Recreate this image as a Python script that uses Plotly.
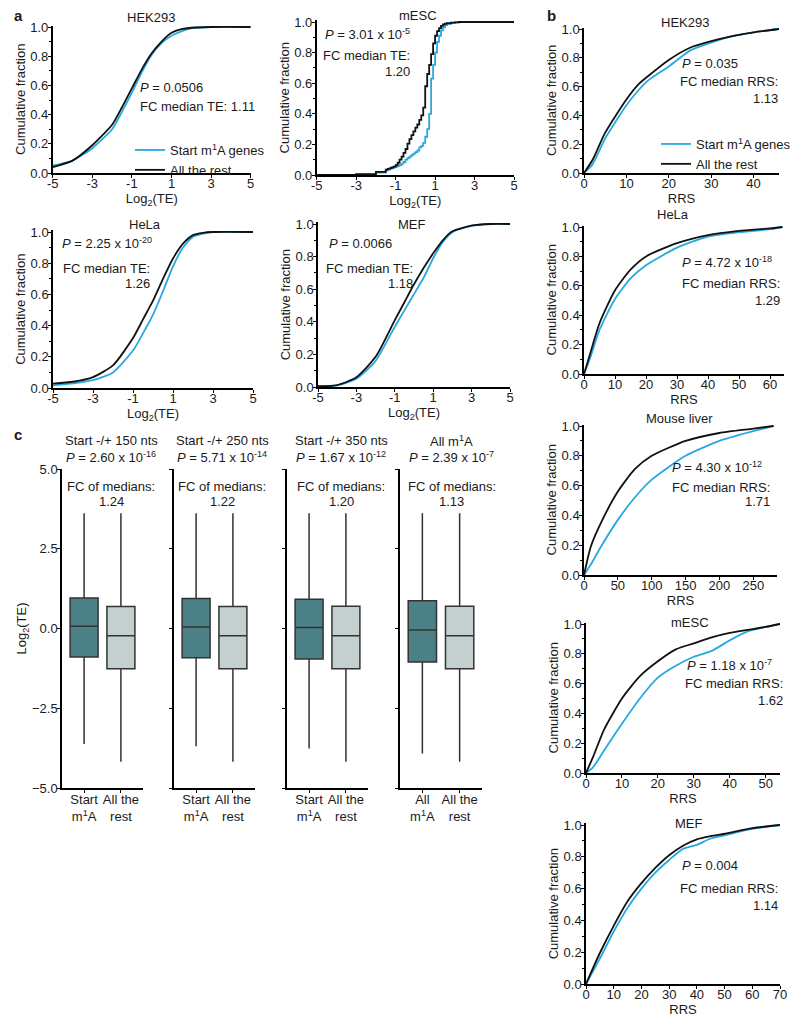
import plotly.graph_objects as go

# The page body has an 8 px margin, so the figure is placed at (8, 8) in the window.
OX, OY = 8, 8
W, H = 792, 1010
FONT = "Liberation Sans, Arial, Helvetica, sans-serif"
BLUE = "#27a8e3"
BLACK = "#111111"
TEAL = "#4b8086"
LIGHT = "#c4d0d0"
TXT = "#1a1a1a"
FS = 13

# ---------------- data: panel a (Log2 TE CDFs) ----------------
a_hek_x = [-5, -4, -3, -2, -1.5, -1, -0.5, 0, 0.5, 1, 1.5, 2, 3, 5]
a_hek_start = [0.05, 0.085, 0.17, 0.30, 0.42, 0.55, 0.69, 0.81, 0.89, 0.94, 0.97, 0.99, 1.0, 1.0]
a_hek_rest = [0.04, 0.085, 0.19, 0.33, 0.45, 0.58, 0.71, 0.82, 0.90, 0.96, 0.985, 0.995, 1.0, 1.0]

a_mesc_x = [-5, -3, -2, -1.5, -1.4, -1.3, -1.2, -1.1, -1.0, -0.9, -0.8, -0.7, -0.6, -0.5, -0.4, -0.3,
            -0.2, -0.1, 0.0, 0.1, 0.2, 0.3, 0.4, 0.5, 0.6, 0.7, 0.8, 0.9, 1.0, 1.1, 1.2, 1.3, 1.4,
            1.5, 1.6, 1.8, 2.0, 2.2, 5]
a_mesc_start = [0, 0.003, 0.015, 0.03, 0.035, 0.04, 0.045, 0.05, 0.055, 0.06, 0.065, 0.075, 0.085,
                0.10, 0.11, 0.12, 0.13, 0.14, 0.15, 0.16, 0.18, 0.19, 0.21, 0.25, 0.30, 0.40, 0.63,
                0.72, 0.80, 0.87, 0.91, 0.945, 0.965, 0.98, 0.987, 0.993, 0.997, 1.0, 1.0]
a_mesc_rest = [0, 0.005, 0.02, 0.035, 0.04, 0.045, 0.05, 0.055, 0.065, 0.08, 0.10, 0.12, 0.145,
               0.17, 0.205, 0.235, 0.26, 0.285, 0.31, 0.33, 0.36, 0.39, 0.44, 0.58, 0.66, 0.72, 0.79,
               0.86, 0.91, 0.94, 0.96, 0.975, 0.985, 0.99, 0.993, 0.996, 0.998, 1.0, 1.0]

a_hela_x = [-5, -4, -3, -2, -1, -0.5, 0, 0.5, 1, 1.5, 2, 2.5, 3, 5]
a_hela_start = [0.017, 0.03, 0.05, 0.10, 0.24, 0.35, 0.47, 0.62, 0.78, 0.90, 0.97, 0.99, 1.0, 1.0]
a_hela_rest = [0.028, 0.04, 0.07, 0.145, 0.32, 0.44, 0.56, 0.70, 0.83, 0.925, 0.98, 0.995, 1.0, 1.0]

a_mef_x = [-5, -4, -3, -2, -1, -0.5, 0, 0.5, 1, 1.5, 2, 3, 4, 5]
a_mef_start = [0.005, 0.01, 0.05, 0.16, 0.37, 0.47, 0.57, 0.67, 0.79, 0.89, 0.95, 0.99, 1.0, 1.0]
a_mef_rest = [0.005, 0.012, 0.06, 0.185, 0.41, 0.52, 0.63, 0.73, 0.82, 0.90, 0.955, 0.99, 1.0, 1.0]

# ---------------- data: panel b (RRS CDFs) ----------------
b_hek_x = [0, 2, 5, 10, 13, 15, 20, 25, 30, 35, 40, 46]
b_hek_start = [0, 0.06, 0.24, 0.47, 0.58, 0.64, 0.74, 0.85, 0.905, 0.95, 0.977, 1.0]
b_hek_rest = [0, 0.09, 0.28, 0.51, 0.62, 0.67, 0.785, 0.87, 0.915, 0.95, 0.977, 1.0]

b_hela_x = [0, 2, 5, 10, 15, 20, 30, 40, 50, 60, 64]
b_hela_start = [0, 0.11, 0.30, 0.51, 0.65, 0.74, 0.86, 0.935, 0.965, 0.985, 1.0]
b_hela_rest = [0, 0.14, 0.345, 0.57, 0.71, 0.80, 0.89, 0.945, 0.973, 0.99, 1.0]

b_liver_x = [0, 10, 25, 50, 75, 100, 150, 200, 250, 280]
b_liver_start = [0, 0.07, 0.19, 0.37, 0.52, 0.64, 0.80, 0.90, 0.965, 1.0]
b_liver_rest = [0, 0.19, 0.35, 0.56, 0.71, 0.80, 0.90, 0.953, 0.982, 1.0]

b_mesc_x = [0, 2, 5, 10, 15, 20, 25, 30, 35, 40, 45, 50, 54]
b_mesc_start = [0, 0.04, 0.15, 0.33, 0.50, 0.64, 0.72, 0.78, 0.82, 0.89, 0.95, 0.98, 1.0]
b_mesc_rest = [0, 0.11, 0.29, 0.50, 0.65, 0.75, 0.83, 0.87, 0.91, 0.94, 0.96, 0.98, 1.0]

b_mef_x = [0, 5, 10, 15, 20, 25, 30, 35, 40, 45, 50, 60, 70]
b_mef_start = [0, 0.16, 0.33, 0.48, 0.60, 0.70, 0.78, 0.85, 0.875, 0.915, 0.935, 0.975, 1.0]
b_mef_rest = [0, 0.195, 0.366, 0.52, 0.634, 0.73, 0.81, 0.87, 0.91, 0.93, 0.945, 0.98, 1.0]

# ---------------- data: panel c (box plots of Log2 TE) ----------------
box_titles = ["Start -/+ 150 nts", "Start -/+ 250 nts", "Start -/+ 350 nts", "All m<sup>1</sup>A"]
box_pvals = ["2.60 x 10<sup>-16</sup>", "5.71 x 10<sup>-14</sup>", "1.67 x 10<sup>-12</sup>", "2.39 x 10<sup>-7</sup>"]
box_fc = ["1.24", "1.22", "1.20", "1.13"]
box_cat_first = ["Start<br>m<sup>1</sup>A", "Start<br>m<sup>1</sup>A", "Start<br>m<sup>1</sup>A", "All<br>m<sup>1</sup>A"]
box_cat_second = ["All the<br>rest"] * 4
box_m1a_lo = [-3.62, -3.69, -3.76, -3.92]
box_m1a_q1 = [-0.89, -0.92, -0.96, -1.05]
box_m1a_med = [0.07, 0.05, 0.03, -0.05]
box_m1a_q3 = [0.96, 0.94, 0.92, 0.87]
box_m1a_hi = [3.61, 3.61, 3.61, 3.61]
box_rest_lo = [-4.18, -4.18, -4.18, -4.18]
box_rest_q1 = [-1.26, -1.26, -1.26, -1.26]
box_rest_med = [-0.23, -0.23, -0.23, -0.23]
box_rest_q3 = [0.69, 0.69, 0.70, 0.70]
box_rest_hi = [3.61, 3.61, 3.61, 3.61]


def px_x(x):
    return (x - OX) / W


def px_y(y):
    return 1 - (y - OY) / H


def dx(l, r):
    return [px_x(l), px_x(r)]


def dy(t, b):
    return [px_y(b), px_y(t)]


def ann(text, x, y, xanchor="center", size=FS, bold=False):
    return dict(text=f"<b>{text}</b>" if bold else text, x=px_x(x), y=px_y(y),
                xref="paper", yref="paper", xanchor=xanchor, yanchor="middle",
                showarrow=False, font=dict(size=size, color=TXT, family=FONT))


fig = go.Figure()
layout = {}
annotations = []

axis_common = dict(showline=True, linecolor="black", linewidth=1.5, ticks="outside",
                   ticklen=4, tickwidth=1.2, tickcolor="black", showgrid=False,
                   zeroline=False, automargin=False,
                   tickfont=dict(size=FS, color=TXT, family=FONT))

ytick_vals = [0, 0.2, 0.4, 0.6, 0.8, 1.0]
ytick_text = ["0.0", "0.2", "0.4", "0.6", "0.8", "1.0"]
a_tv = [-5, -3, -1, 1, 3, 5]
a_tt = ["-5", "-3", "-1", "1", "3", "5"]

# (x px range, y px range, x range, x tickvals, x ticktext, x title, xs, start, rest, shape, legend)
cdf_panels = [
    ((52.7, 250.7), (27, 173), [-5, 5], a_tv, a_tt,
     "Log<sub>2</sub>(TE)", a_hek_x, a_hek_start, a_hek_rest, "spline", "legend"),
    ((316.7, 514), (22, 175), [-5, 5], a_tv, a_tt,
     "Log<sub>2</sub>(TE)", a_mesc_x, a_mesc_start, a_mesc_rest, "hv", None),
    ((53, 253), (232, 388), [-5, 5], a_tv, a_tt,
     "Log<sub>2</sub>(TE)", a_hela_x, a_hela_start, a_hela_rest, "spline", None),
    ((318, 510), (224, 387), [-5, 5], a_tv, a_tt,
     "Log<sub>2</sub>(TE)", a_mef_x, a_mef_start, a_mef_rest, "spline", None),
    ((584, 779), (29, 173), [0, 46], [0, 10, 20, 30, 40], None,
     "RRS", b_hek_x, b_hek_start, b_hek_rest, "spline", "legend2"),
    ((584, 784), (227, 374), [0, 64.5], [0, 10, 20, 30, 40, 50, 60], None,
     "RRS", b_hela_x, b_hela_start, b_hela_rest, "spline", None),
    ((584, 777), (426, 575), [0, 285], [0, 50, 100, 150, 200, 250], None,
     "RRS", b_liver_x, b_liver_start, b_liver_rest, "spline", None),
    ((586, 780), (624, 773), [0, 54], [0, 10, 20, 30, 40, 50], None,
     "RRS", b_mesc_x, b_mesc_start, b_mesc_rest, "spline", None),
    ((586, 780), (825, 984), [0, 70], [0, 10, 20, 30, 40, 50, 60, 70], None,
     "RRS", b_mef_x, b_mef_start, b_mef_rest, "spline", None),
]

YTOP = 1.01
for i, (xp, yp, xr, tv, tt, xtitle, xs, st, rs, shape, leg) in enumerate(cdf_panels, start=1):
    xa = "x" if i == 1 else f"x{i}"
    ya = "y" if i == 1 else f"y{i}"
    top_px = yp[0] - (YTOP - 1.0) * (yp[1] - yp[0])
    xaxis = dict(axis_common, domain=dx(*xp), range=xr, anchor=ya, tickvals=tv,
                 ticklen=3, ticklabelstandoff=-5,
                 title=dict(text=xtitle, standoff=0, font=dict(size=FS, color=TXT, family=FONT)))
    if tt is not None:
        xaxis["ticktext"] = tt
    yaxis = dict(axis_common, domain=dy(top_px, yp[1]), range=[0, YTOP], anchor=xa,
                 tickvals=ytick_vals, ticktext=ytick_text, ticklen=3, ticklabelstandoff=-3,
                 minor=dict(tickmode="array", tickvals=[0.1, 0.3, 0.5, 0.7, 0.9], ticks="outside",
                            ticklen=2, tickcolor="black", tickwidth=1),
                 title=dict(text="Cumulative fraction", standoff=2,
                            font=dict(size=FS, color=TXT, family=FONT)))
    layout["xaxis" if i == 1 else f"xaxis{i}"] = xaxis
    layout["yaxis" if i == 1 else f"yaxis{i}"] = yaxis
    lshape = dict(shape=shape, smoothing=0.6) if shape == "spline" else dict(shape=shape)
    fig.add_trace(go.Scatter(x=xs, y=st, mode="lines", xaxis=xa, yaxis=ya,
                             line=dict(color=BLUE, width=1.8, **lshape),
                             name="Start m<sup>1</sup>A genes", showlegend=leg is not None,
                             legend=leg if leg else "legend"))
    fig.add_trace(go.Scatter(x=xs, y=rs, mode="lines", xaxis=xa, yaxis=ya,
                             line=dict(color=BLACK, width=1.8, **lshape),
                             name="All the rest", showlegend=leg is not None,
                             legend=leg if leg else "legend"))

# ---------- panel c boxes ----------
box_xpx = [(62, 143), (174, 255), (287, 368), (400, 482)]
for j in range(4):
    i = 10 + j
    xa, ya = f"x{i}", f"y{i}"
    layout[f"xaxis{i}"] = dict(axis_common, domain=dx(*box_xpx[j]), range=[-0.6, 1.6], anchor=ya,
                              tickvals=[0, 1], ticktext=[box_cat_first[j], box_cat_second[j]],
                              ticklen=3, ticklabelstandoff=-4)
    yaxis = dict(axis_common, domain=dy(469, 788), range=[-5, 5], anchor=xa,
                 tickvals=[-5, -2.5, 0, 2.5, 5], ticktext=["−5.0", "−2.5", "0.0", "2.5", "5.0"],
                 ticklen=3, ticklabelstandoff=-3, showticklabels=(j == 0))
    if j == 0:
        yaxis["title"] = dict(text="Log<sub>2</sub>(TE)", standoff=2,
                              font=dict(size=FS, color=TXT, family=FONT))
    layout[f"yaxis{i}"] = yaxis
    fig.add_trace(go.Box(x=[0], q1=[box_m1a_q1[j]], median=[box_m1a_med[j]], q3=[box_m1a_q3[j]],
                         lowerfence=[box_m1a_lo[j]], upperfence=[box_m1a_hi[j]],
                         width=0.76, whiskerwidth=0, fillcolor=TEAL,
                         line=dict(color="#333333", width=1.5), xaxis=xa, yaxis=ya,
                         showlegend=False, boxpoints=False, name="m1A"))
    fig.add_trace(go.Box(x=[1], q1=[box_rest_q1[j]], median=[box_rest_med[j]], q3=[box_rest_q3[j]],
                         lowerfence=[box_rest_lo[j]], upperfence=[box_rest_hi[j]],
                         width=0.76, whiskerwidth=0, fillcolor=LIGHT,
                         line=dict(color="#333333", width=1.5), xaxis=xa, yaxis=ya,
                         showlegend=False, boxpoints=False, name="rest"))

# ---------- text annotations ----------
annotations += [
    ann("a", 12, 15, "left", 15, True), ann("b", 545, 15, "left", 15, True),
    ann("c", 12, 435, "left", 15, True),
    # a
    ann("HEK293", 151, 17), ann("<i>P</i> = 0.0506", 138, 88, "left"),
    ann("FC median TE: 1.11", 138, 107, "left"),
    ann("mESC", 418, 15), ann("<i>P</i> = 3.01 x 10<sup>-5</sup>", 412, 34, "right"),
    ann("FC median TE:", 412, 55, "right"), ann("1.20", 412, 71, "right"),
    ann("HeLa", 145, 225), ann("<i>P</i> = 2.25 x 10<sup>-20</sup>", 60, 243, "left"),
    ann("FC median TE:", 152, 268, "right"), ann("1.26", 152, 283, "right"),
    ann("MEF", 412, 225), ann("<i>P</i> = 0.0066", 327, 244, "left"),
    ann("FC median TE:", 415, 268, "right"), ann("1.18", 415, 283, "right"),
    # b
    ann("HEK293", 685, 22), ann("<i>P</i> = 0.035", 680, 63, "left"),
    ann("FC median RRS:", 780, 82, "right"), ann("1.13", 780, 99, "right"),
    ann("HeLa", 673, 215), ann("<i>P</i> = 4.72 x 10<sup>-18</sup>", 680, 262, "left"),
    ann("FC median RRS:", 782, 283, "right"), ann("1.29", 782, 300, "right"),
    ann("Mouse liver", 679, 418), ann("<i>P</i> = 4.30 x 10<sup>-12</sup>", 670, 467, "left"),
    ann("FC median RRS:", 772, 487, "right"), ann("1.71", 772, 501, "right"),
    ann("mESC", 690, 622), ann("<i>P</i> = 1.18 x 10<sup>-7</sup>", 685, 665, "left"),
    ann("FC median RRS:", 785, 683, "right"), ann("1.62", 785, 700, "right"),
    ann("MEF", 689, 823), ann("<i>P</i> = 0.004", 680, 865, "left"),
    ann("FC median RRS:", 780, 888, "right"), ann("1.14", 780, 905, "right"),
]
box_centers = [111, 222, 341, 452]
for j in range(4):
    cx = box_centers[j]
    annotations += [
        ann(box_titles[j], cx, 441), ann(f"<i>P</i> = {box_pvals[j]}", cx, 457),
        ann("FC of medians:", cx, 486), ann(box_fc[j], cx, 501),
    ]

layout.update(
    width=W, height=H, margin=dict(l=0, r=0, t=0, b=0, autoexpand=False),
    paper_bgcolor="white", plot_bgcolor="white",
    font=dict(family=FONT, size=FS, color=TXT),
    annotations=annotations,
    legend=dict(x=px_x(130), y=px_y(135), xanchor="left", yanchor="top",
                bgcolor="rgba(0,0,0,0)", font=dict(size=FS, color=TXT, family=FONT),
                tracegroupgap=0, itemwidth=30),
    legend2=dict(x=px_x(656), y=px_y(129), xanchor="left", yanchor="top",
                 bgcolor="rgba(0,0,0,0)", font=dict(size=FS, color=TXT, family=FONT),
                 tracegroupgap=0, itemwidth=30),
)
fig.update_layout(**layout)
fig.write_html("out.html")
